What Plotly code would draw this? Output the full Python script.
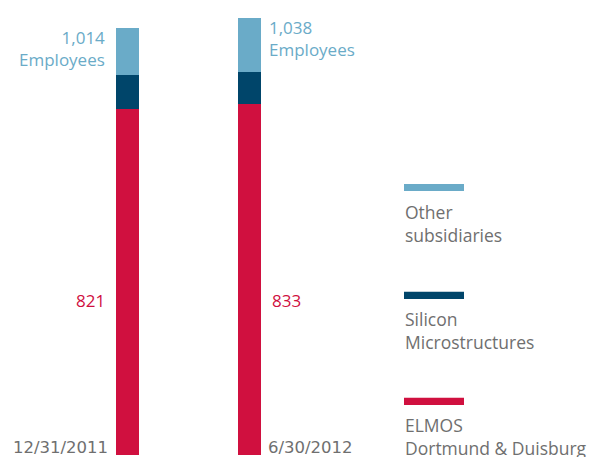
import plotly.graph_objects as go

categories = ["12/31/2011", "6/30/2012"]
elmos = [821, 833]
smi = [80, 76]
other = [113, 129]
totals = [a + b + c for a, b, c in zip(elmos, smi, other)]
series_names = ["ELMOS<br>Dortmund & Duisburg", "Silicon<br>Microstructures", "Other<br>subsidiaries"]

RED = "#d0103f"
DARK = "#00456a"
LIGHT = "#6aabc8"
GRAY = "#6f6f6f"
FONT = "Open Sans"

W, H = 590, 457
fig = go.Figure()
for vals, col in [(elmos, RED), (smi, DARK), (other, LIGHT)]:
    fig.add_trace(go.Bar(x=[0, 1], y=vals, marker=dict(color=col, line=dict(width=0)),
                         width=0.189, showlegend=False, hoverinfo="skip"))

px_per_cat = 121.7
x0 = 127.8
scale = 0.4208
bottom = 454.5

fig.update_layout(
    barmode="stack",
    width=W, height=H,
    margin=dict(l=0, r=0, t=0, b=0),
    plot_bgcolor="white", paper_bgcolor="white",
    xaxis=dict(range=[-x0 / px_per_cat, (W - x0) / px_per_cat], visible=False),
    yaxis=dict(range=[-(H - bottom) / scale, bottom / scale], visible=False),
    font=dict(family=FONT, size=17, color=GRAY),
)

ann = []
# totals
ann.append(dict(x=0, y=totals[0], xref="x", yref="y", xanchor="right", yanchor="top", align="right",
                xshift=-21, yshift=4, showarrow=False,
                text=f"{totals[0]:,}<br>Employees", font=dict(color=LIGHT, size=17, family=FONT)))
ann.append(dict(x=1, y=totals[1], xref="x", yref="y", xanchor="left", yanchor="top", align="left",
                xshift=17, yshift=4, showarrow=False,
                text=f"{totals[1]:,}<br>Employees", font=dict(color=LIGHT, size=17, family=FONT)))
# elmos values
ann.append(dict(x=0, y=367, xref="x", yref="y", xanchor="right", yanchor="middle",
                xshift=-21, showarrow=False, text=f"{elmos[0]}", font=dict(color=RED, size=17, family=FONT)))
ann.append(dict(x=1, y=367, xref="x", yref="y", xanchor="left", yanchor="middle",
                xshift=20, showarrow=False, text=f"{elmos[1]}", font=dict(color=RED, size=17, family=FONT)))
# date labels
DATE_FONT = dict(family="DejaVu Sans", size=16.5, color=GRAY)
ann.append(dict(x=0, y=0, xref="x", yref="y", xanchor="right", yanchor="bottom",
                xshift=-18, yshift=-4, showarrow=False, text=categories[0], font=DATE_FONT))
ann.append(dict(x=1, y=0, xref="x", yref="y", xanchor="left", yanchor="bottom",
                xshift=16, yshift=-4, showarrow=False, text=categories[1], font=DATE_FONT))

shapes = []
legend_items = [(series_names[2], LIGHT, 187.5), (series_names[1], DARK, 295.3), (series_names[0], RED, 401.3)]
for name, col, ly in legend_items:
    shapes.append(dict(type="rect", xref="paper", yref="paper",
                       x0=404 / W, x1=464 / W, y0=1 - (ly + 3.6) / H, y1=1 - (ly - 3.6) / H,
                       fillcolor=col, line=dict(width=0)))
    ann.append(dict(x=403 / W, y=1 - (ly + 10) / H, xref="paper", yref="paper", xanchor="left",
                    yanchor="top", align="left", showarrow=False, text=name,
                    font=dict(family=FONT, size=17.5, color=GRAY)))

fig.update_layout(annotations=ann, shapes=shapes)
fig.write_html("out.html", config={"displayModeBar": False},
               post_script="document.body.style.margin='0';document.body.style.overflow='hidden';")
